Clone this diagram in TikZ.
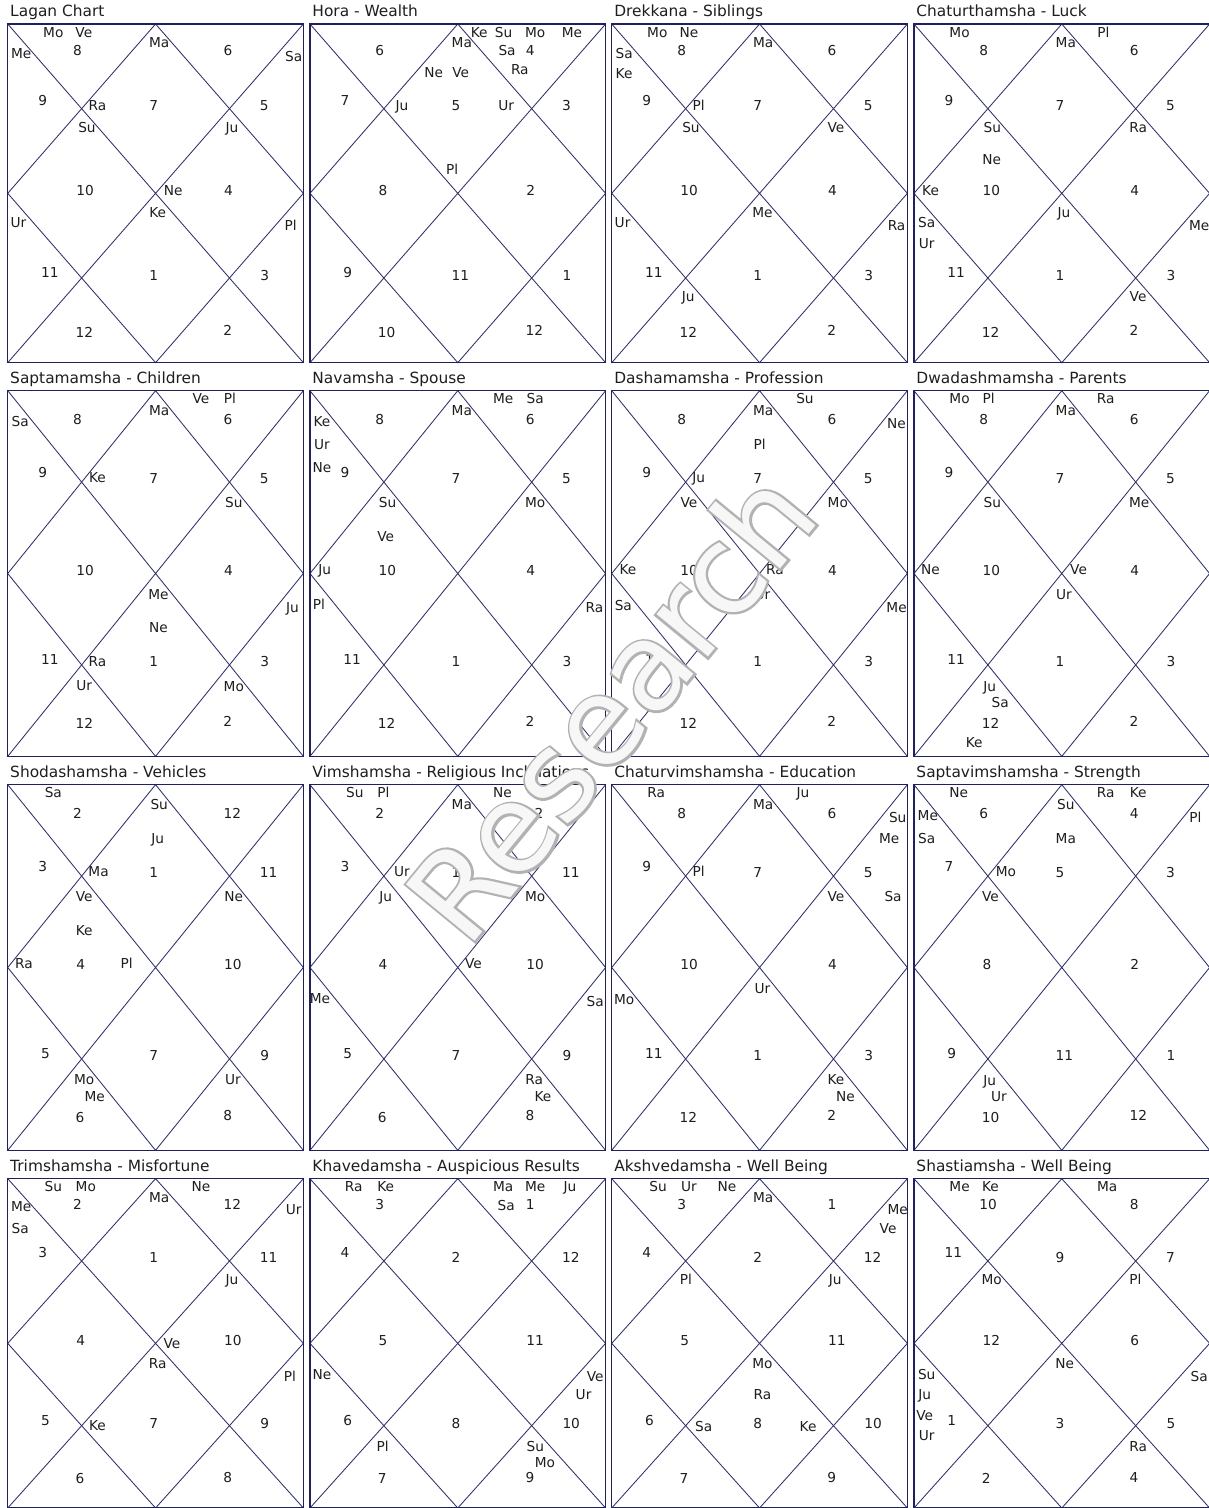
\documentclass[tikz,border=0pt]{standalone}
\usepackage{fontspec}
\setmainfont{DejaVu Sans}
\newfontfamily\wmplain{DejaVu Sans}
\newfontfamily\wmbold[FakeBold=3.6]{DejaVu Sans}
\usetikzlibrary{calc}
\definecolor{cborder}{RGB}{32,32,92}
\definecolor{cline}{RGB}{48,48,105}
\definecolor{ctext}{RGB}{30,30,30}
\tikzset{
  chartbox/.style={draw=cborder,line width=1.5pt},
  chartline/.style={draw=cline,line width=0.85pt},
  num/.style={font=\fontsize{13.7}{14}\selectfont,text=ctext,inner sep=0pt,text height=9.9pt,text depth=0pt,anchor=west},
  pl/.style={font=\fontsize{13.7}{14}\selectfont,text=ctext,inner sep=0pt,text height=9.9pt,text depth=0pt},
  ttl/.style={font=\fontsize{15.4}{16}\selectfont,text=ctext,inner sep=0pt,anchor=base west},
  wmout/.style={font=\wmbold\fontsize{122}{122}\selectfont,text=gray!60,inner sep=0pt},
  wmin/.style={font=\wmplain\fontsize{122}{122}\selectfont,text=white,text opacity=0.9,inner sep=0pt}
}
\newcommand\drawchart[7]{%
\begin{scope}[shift={(#2,#3)},xscale=0.38647,yscale=0.33333]
  \draw[chartline] (0,0) -- (765,#4) (765,0) -- (0,#4);
  \draw[chartline] (382.5,0) -- (765,{#4/2}) -- (382.5,#4) -- (0,{#4/2}) -- cycle;
  \draw[chartbox] (0,0) rectangle (765,#4);
  \node[ttl] (c#1-title) at (6,-22) {#6};
  \foreach \k/\px/\fy in {1/366/0.240,2/169/0.078,3/79/0.225,4/177/0.491,5/86/0.734,6/175/0.910,7/366/0.742,8/557.5/0.906,9/653/0.742,10/559.5/0.491,11/652/0.240,12/558/0.078}{
    \pgfmathtruncatemacro\snum{mod(#5+\k-2,12)+1}
    \node[num] (c#1-h\k) at (\px,{\fy*#4}) {\snum};
  }
  \foreach \p/\x/\y in {#7}{\node[pl] (c#1-\p) at (\x,\y) {\p};}
\end{scope}}
\begin{document}
\begin{tikzpicture}[x=1pt,y=-1pt]
\useasboundingbox (0,0) rectangle (1209,1508);
\fill[white] (0,0) rectangle (1209,1508);
% row 1
\drawchart{1}{7.73}{24}{1016}{7}{Lagan Chart}{Mo/118/25,Ve/197/25,Me/35/88,Ma/392/55,Sa/740/98,Ra/232/246,Su/205/310,Ju/580/310,Ne/428/500,Ke/388/565,Ur/28/596,Pl/732/606}
\drawchart{2}{309.95}{24}{1016}{5}{Hora - Wealth}{Ke/438/25,Su/501/25,Mo/583/25,Me/678/25,Ma/393/55,Sa/510/80,Ra/543/138,Ne/320/146,Ve/390/146,Ju/238/246,Ur/508/246,Pl/368/436}
\drawchart{3}{611.73}{24}{1016}{7}{Drekkana - Siblings}{Mo/118/25,Ne/200/25,Sa/32/88,Ke/32/148,Ma/392/55,Pl/225/246,Su/205/310,Ve/580/310,Me/390/565,Ur/28/596,Ra/737/606,Ju/198/818}
\drawchart{4}{913.95}{24}{1016}{7}{Chaturthamsha - Luck}{Mo/118/25,Pl/490/25,Ma/393/55,Su/203/310,Ra/580/310,Ne/201/408,Ke/43/500,Ju/388/565,Sa/33/596,Ur/33/658,Me/738/606,Ve/580/818}
% row 2
\drawchart{5}{7.73}{390.67}{1097}{7}{Saptamamsha - Children}{Sa/32/92,Ma/392/59,Ve/500/24,Pl/575/24,Ke/232/262,Su/585/335,Me/390/612,Ne/390/712,Ju/737/650,Ra/232/812,Ur/198/885,Mo/585/887}
\drawchart{6}{309.95}{390.67}{1097}{7}{Navamsha - Spouse}{Ke/31/92,Ur/31/162,Ne/31/230,Ma/393/59,Me/500/24,Sa/583/24,Su/201/335,Mo/583/335,Ve/196/437,Ju/38/537,Pl/23/642,Ra/736/650}
\drawchart{7}{611.73}{390.67}{1097}{7}{Dashamamsha - Profession}{Su/500/24,Ma/392/59,Ne/737/100,Pl/383/162,Ju/225/262,Ve/200/335,Mo/585/335,Ke/42/537,Ra/422/537,Ur/390/612,Sa/30/644,Me/737/650}
\drawchart{8}{913.95}{390.67}{1097}{7}{Dwadashmamsha - Parents}{Mo/118/24,Pl/193/24,Ra/496/24,Ma/393/59,Su/203/335,Me/583/335,Ne/43/537,Ve/426/537,Ur/388/612,Ju/196/887,Sa/223/935,Ke/156/1057}
% row 3
\drawchart{9}{7.73}{784.67}{1097}{1}{Shodashamsha - Vehicles}{Sa/118/24,Su/392/59,Ju/388/162,Ma/235/262,Ve/198/335,Ne/585/335,Ke/198/437,Ra/42/537,Pl/308/537,Mo/198/885,Me/225/935,Ur/583/885}
\drawchart{10}{309.95}{784.67}{1097}{1}{Vimshamsha - Religious Inclinations}{Su/116/24,Pl/190/24,Ne/498/24,Ma/393/59,Ur/238/262,Ju/196/335,Mo/583/335,Ve/423/537,Me/26/642,Sa/738/650,Ra/580/885,Ke/603/935}
\drawchart{11}{611.73}{784.67}{1097}{7}{Chaturvimshamsha - Education}{Ra/115/24,Ju/495/24,Ma/392/59,Su/740/100,Me/718/162,Pl/225/262,Ve/580/335,Sa/728/335,Ur/390/612,Mo/32/644,Ke/580/885,Ne/605/935}
\drawchart{12}{913.95}{784.67}{1097}{5}{Saptavimshamsha - Strength}{Ne/116/24,Ra/496/24,Ke/580/24,Me/36/92,Sa/33/162,Su/393/59,Ma/393/162,Pl/728/100,Mo/238/262,Ve/198/335,Ju/196/887,Ur/220/935}
% row 4
\drawchart{13}{7.73}{1178.67}{988}{1}{Trimshamsha - Misfortune}{Su/118/24,Mo/202/24,Ne/500/24,Ma/392/57,Me/35/84,Sa/32/149,Ur/740/92,Ju/580/304,Ve/425/494,Ra/388/555,Pl/730/594,Ke/232/742}
\drawchart{14}{309.95}{1178.67}{988}{2}{Khavedamsha - Auspicious Results}{Ra/113/24,Ke/196/24,Ma/500/24,Me/583/24,Ju/673/24,Sa/508/80,Ne/31/587,Ve/738/594,Ur/708/647,Pl/188/804,Su/583/804,Mo/608/852}
\drawchart{15}{611.73}{1178.67}{988}{2}{Akshvedamsha - Well Being}{Su/120/24,Ur/200/24,Ne/298/24,Ma/392/57,Me/740/92,Ve/715/149,Pl/192/304,Ju/578/304,Mo/390/555,Ra/390/647,Sa/238/744,Ke/508/744}
\drawchart{16}{913.95}{1178.67}{988}{9}{Shastiamsha - Well Being}{Me/118/24,Ke/198/24,Ma/500/24,Mo/201/304,Pl/573/304,Ne/390/555,Su/33/587,Ju/28/647,Ve/28/710,Ur/33/772,Sa/738/594,Ra/580/804}
% watermark
\coordinate (wmc) at (610,705);
\node[wmout,rotate=50.6] (wmo) at (wmc) {Research};
\node[wmin,rotate=50.6] (wm) at (wmc) {Research};
\end{tikzpicture}
\end{document}
